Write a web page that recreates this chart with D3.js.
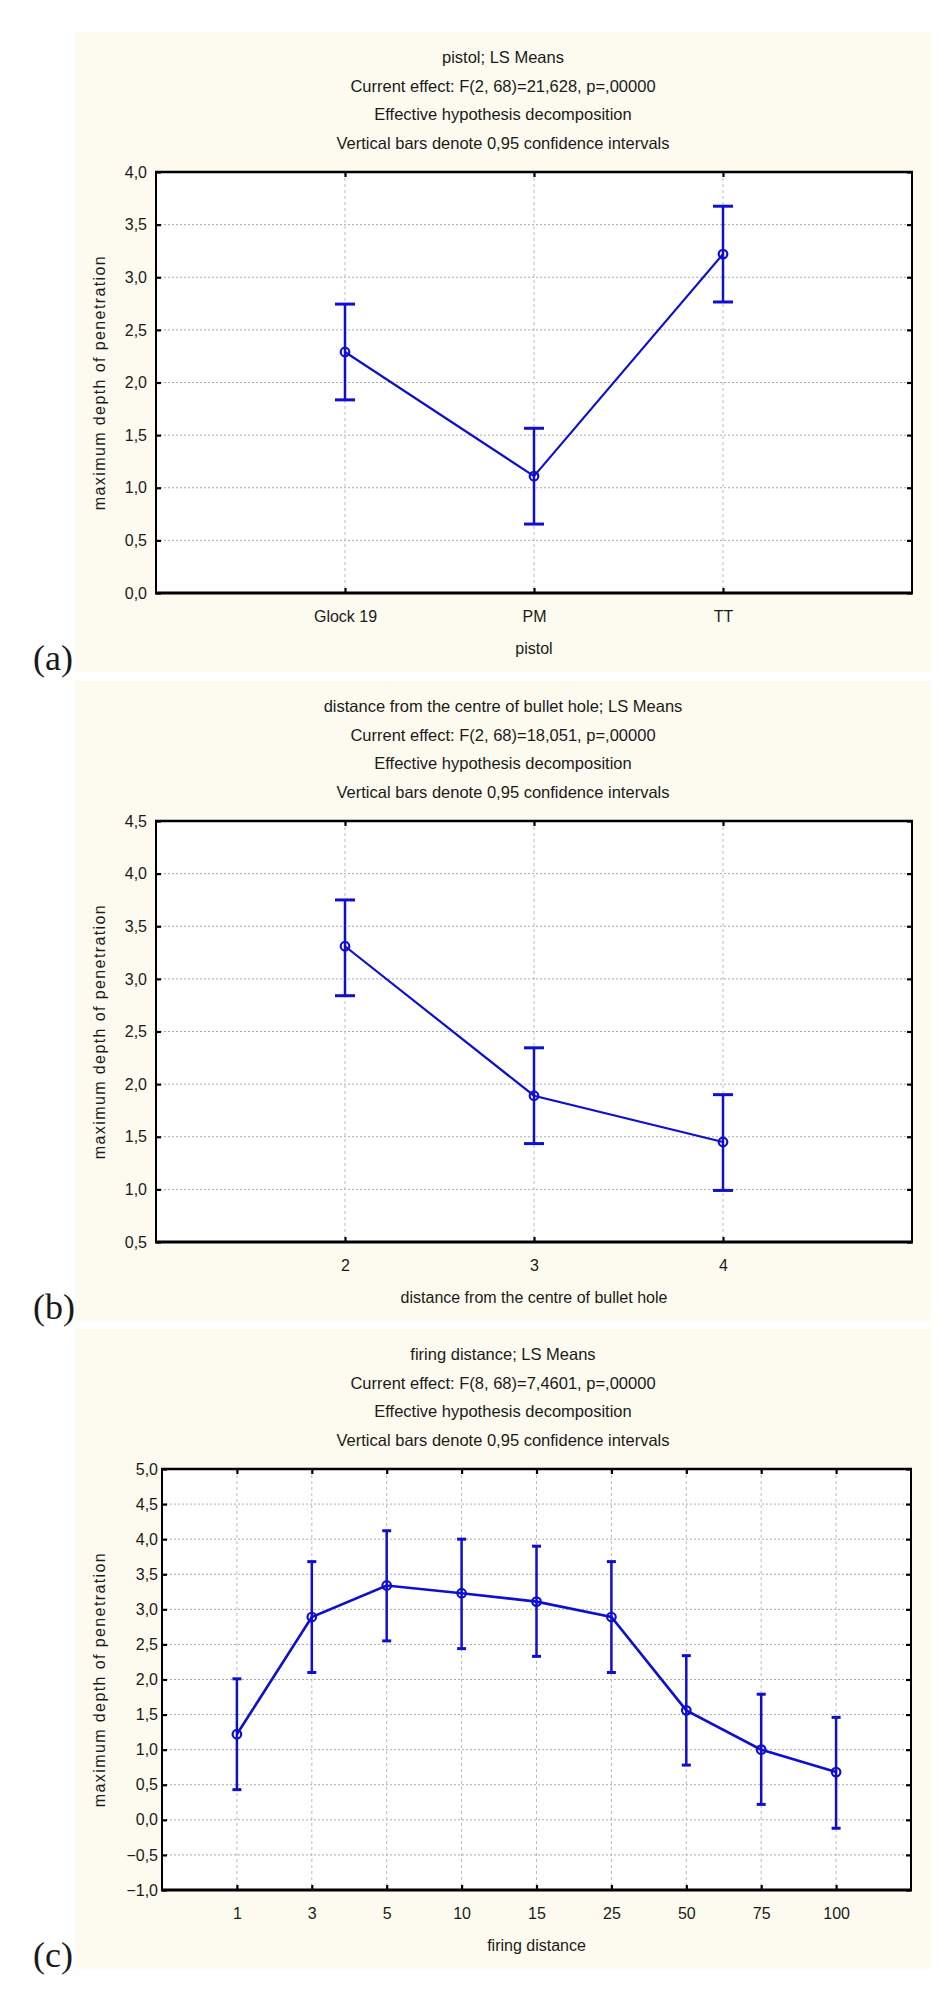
<!DOCTYPE html>
<html>
<head>
<meta charset="utf-8">
<script src="https://cdn.jsdelivr.net/npm/d3@7"></script>
<style>
body { margin: 0; background: #fff; }
text { font-family: "Liberation Sans", Arial, sans-serif; fill: #1a1a1a; }
</style>
</head>
<body>
<script>
// panel (a): pistol
var pistolCats = ["Glock 19", "PM", "TT"];
var pistolMeans = [2.29, 1.11, 3.22];
var pistolLower = [1.835, 0.655, 2.765];
var pistolUpper = [2.745, 1.565, 3.675];
var pistolTicks = [0, 0.5, 1, 1.5, 2, 2.5, 3, 3.5, 4];
var pistolTitles = ["pistol; LS Means", "Current effect: F(2, 68)=21,628, p=,00000",
  "Effective hypothesis decomposition", "Vertical bars denote 0,95 confidence intervals"];

// panel (b): distance from centre of bullet hole
var holeCats = ["2", "3", "4"];
var holeMeans = [3.31, 1.89, 1.45];
var holeLower = [2.84, 1.435, 0.99];
var holeUpper = [3.75, 2.345, 1.90];
var holeTicks = [0.5, 1, 1.5, 2, 2.5, 3, 3.5, 4, 4.5];
var holeTitles = ["distance from the centre of bullet hole; LS Means", "Current effect: F(2, 68)=18,051, p=,00000",
  "Effective hypothesis decomposition", "Vertical bars denote 0,95 confidence intervals"];

// panel (c): firing distance
var firingCats = ["1", "3", "5", "10", "15", "25", "50", "75", "100"];
var firingMeans = [1.22, 2.89, 3.34, 3.23, 3.11, 2.89, 1.56, 1.00, 0.68];
var firingLower = [0.43, 2.10, 2.55, 2.44, 2.33, 2.10, 0.78, 0.22, -0.12];
var firingUpper = [2.01, 3.68, 4.12, 4.00, 3.90, 3.68, 2.34, 1.79, 1.46];
var firingTicks = [-1, -0.5, 0, 0.5, 1, 1.5, 2, 2.5, 3, 3.5, 4, 4.5, 5];
var firingTitles = ["firing distance; LS Means", "Current effect: F(8, 68)=7,4601, p=,00000",
  "Effective hypothesis decomposition", "Vertical bars denote 0,95 confidence intervals"];

var yLabel = "maximum depth of penetration";
var blue = "#0f0fd0";

var svg = d3.select("body").append("svg").attr("width", 942).attr("height", 1992);

function fmt(v) {
  return d3.format(".1f")(v).replace(".", ",").replace("-", "\u2212");
}

function drawPanel(p) {
  var g = svg.append("g").attr("transform", "translate(0," + p.top + ")");
  g.append("rect").attr("x", 75).attr("y", 0).attr("width", 856).attr("height", 640).attr("fill", "#fdfaef");

  g.selectAll(".title").data(p.titles).enter().append("text")
    .attr("x", 503).attr("y", function(d, i) { return 31 + i * 28.7; })
    .attr("text-anchor", "middle").style("font-size", "16.5px").text(function(d) { return d; });

  var top = 140, bottom = 561;
  var x = d3.scalePoint().domain(p.cats).range([p.left, p.right]).padding(1);
  var y = d3.scaleLinear().domain(d3.extent(p.ticks)).range([bottom, top]);

  g.append("rect").attr("x", p.left).attr("y", top).attr("width", p.right - p.left).attr("height", bottom - top).attr("fill", "#fff");

  // grid
  g.selectAll(".hgrid").data(p.ticks.slice(1, -1)).enter().append("line")
    .attr("x1", p.left).attr("x2", p.right).attr("y1", function(d) { return y(d); }).attr("y2", function(d) { return y(d); })
    .attr("stroke", "#aaa").attr("stroke-width", 1).attr("stroke-dasharray", "2,2");
  g.selectAll(".vgrid").data(p.cats).enter().append("line")
    .attr("x1", function(d) { return x(d); }).attr("x2", function(d) { return x(d); }).attr("y1", top).attr("y2", bottom)
    .attr("stroke", "#bbb").attr("stroke-width", 1).attr("stroke-dasharray", "3,3");

  // axes with inward ticks
  var yl = g.append("g").attr("transform", "translate(" + p.left + ",0)")
    .call(d3.axisLeft(y).tickValues(p.ticks).tickFormat(fmt).tickSizeInner(-5).tickSizeOuter(0).tickPadding(p.pad));
  var yr = g.append("g").attr("transform", "translate(" + p.right + ",0)")
    .call(d3.axisRight(y).tickValues(p.ticks).tickFormat("").tickSizeInner(-5).tickSizeOuter(0));
  var xb = g.append("g").attr("transform", "translate(0," + bottom + ")")
    .call(d3.axisBottom(x).tickSizeInner(-5).tickSizeOuter(0).tickPadding(18));
  var xt = g.append("g").attr("transform", "translate(0," + top + ")")
    .call(d3.axisTop(x).tickFormat("").tickSizeInner(-5).tickSizeOuter(0));
  [yl, yr, xb, xt].forEach(function(a) {
    a.select(".domain").remove();
    a.selectAll("line").attr("stroke", "#000").attr("stroke-width", 2.2);
    a.selectAll("text").style("font-size", "16px").attr("fill", "#1a1a1a").style("font-family", null);
  });

  // frame
  g.append("rect").attr("x", p.left).attr("y", top).attr("width", p.right - p.left).attr("height", bottom - top)
    .attr("fill", "none").attr("stroke", "#000").attr("stroke-width", 2);
  g.append("line").attr("x1", p.left - 1).attr("x2", p.right + 1).attr("y1", bottom).attr("y2", bottom)
    .attr("stroke", "#000").attr("stroke-width", 3.2);
  g.append("line").attr("x1", p.left - 1).attr("x2", p.right + 1).attr("y1", top).attr("y2", top)
    .attr("stroke", "#000").attr("stroke-width", 2.6);

  var pts = p.cats.map(function(c, i) { return { c: c, m: p.means[i], lo: p.lower[i], hi: p.upper[i] }; });

  // error bars
  g.selectAll(".eb").data(pts).enter().append("line")
    .attr("x1", function(d) { return x(d.c); }).attr("x2", function(d) { return x(d.c); })
    .attr("y1", function(d) { return y(d.lo); }).attr("y2", function(d) { return y(d.hi); })
    .attr("stroke", blue).attr("stroke-width", 2.5);
  ["lo", "hi"].forEach(function(k) {
    g.selectAll(".cap" + k).data(pts).enter().append("line")
      .attr("x1", function(d) { return x(d.c) - p.cap; }).attr("x2", function(d) { return x(d.c) + p.cap; })
      .attr("y1", function(d) { return y(d[k]); }).attr("y2", function(d) { return y(d[k]); })
      .attr("stroke", blue).attr("stroke-width", 3);
  });

  g.append("path").datum(pts)
    .attr("d", d3.line().x(function(d) { return x(d.c); }).y(function(d) { return y(d.m); }))
    .attr("fill", "none").attr("stroke", blue).attr("stroke-width", p.lw);

  g.selectAll(".pt").data(pts).enter().append("circle")
    .attr("cx", function(d) { return x(d.c); }).attr("cy", function(d) { return y(d.m); }).attr("r", 4.3)
    .attr("fill", "none").attr("stroke", blue).attr("stroke-width", 2.2);

  // axis titles
  g.append("text").attr("transform", "translate(105," + ((top + bottom) / 2) + ") rotate(-90)")
    .attr("text-anchor", "middle").style("font-size", "16px").style("letter-spacing", "1.4px").attr("fill", "#2a2a2a").text(yLabel);
  g.append("text").attr("x", (p.left + p.right) / 2).attr("y", 622)
    .attr("text-anchor", "middle").style("font-size", "16px").text(p.xTitle);

  g.append("text").attr("x", 33).attr("y", 638)
    .style("font-family", "'Liberation Serif', 'Times New Roman', serif").style("font-size", "36px").attr("fill", "#000")
    .text(p.tag);
}

drawPanel({ top: 32, left: 156, right: 912, pad: 9, cap: 10, lw: 2.2, cats: pistolCats, means: pistolMeans,
  lower: pistolLower, upper: pistolUpper, ticks: pistolTicks, titles: pistolTitles, xTitle: "pistol", tag: "(a)" });
drawPanel({ top: 681, left: 156, right: 912, pad: 9, cap: 10, lw: 2.2, cats: holeCats, means: holeMeans,
  lower: holeLower, upper: holeUpper, ticks: holeTicks, titles: holeTitles,
  xTitle: "distance from the centre of bullet hole", tag: "(b)" });
drawPanel({ top: 1329, left: 162, right: 911, pad: 4, cap: 4.5, lw: 2.6, cats: firingCats, means: firingMeans,
  lower: firingLower, upper: firingUpper, ticks: firingTicks, titles: firingTitles, xTitle: "firing distance", tag: "(c)" });
</script>
</body>
</html>
